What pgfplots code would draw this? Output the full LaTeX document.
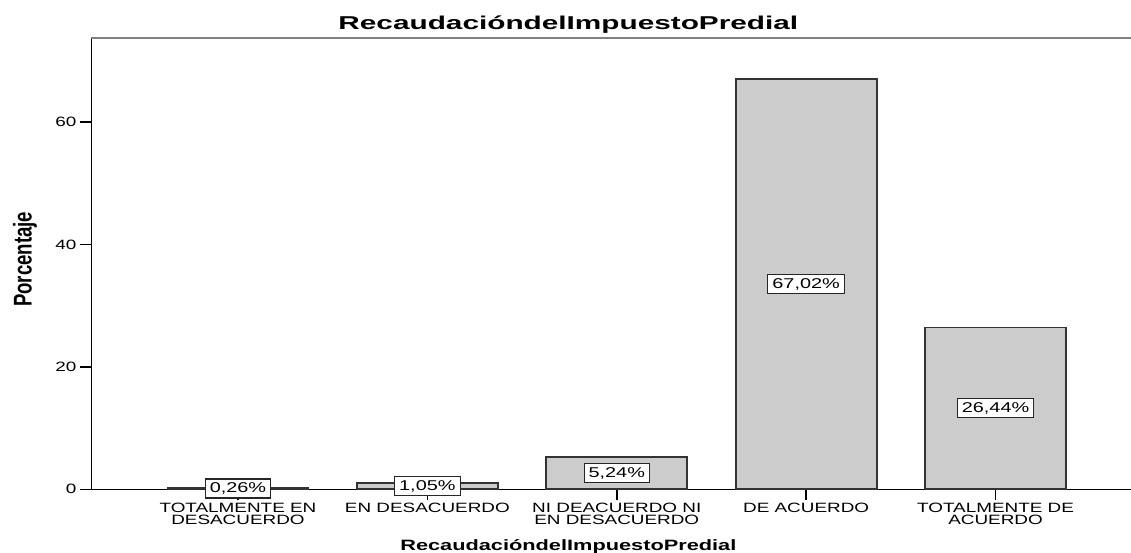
\documentclass[border=0pt]{standalone}
\usepackage{fontspec}
\setmainfont{Liberation Sans}[FakeStretch=1.4]
\newfontfamily\titlefont{Liberation Sans}[FakeStretch=1.6]
\newfontfamily\xlabfont{Liberation Sans}[FakeStretch=1.45]
\newfontfamily\ylabfont{Liberation Sans}
\usepackage{graphicx}
\usepackage{pgfplots}
\usepackage{pgfplotstable}
\pgfplotsset{compat=1.18}
\definecolor{barfill}{HTML}{CCCCCC}
\definecolor{bardraw}{HTML}{333333}

\pgfplotstableread{
x y
0 0.26
1 1.05
2 5.24
3 67.02
4 26.44
}\datatable

\begin{document}
\begin{tikzpicture}
\begin{axis}[
  scale only axis,
  width=1040pt, height=451.6pt,
  xmin=-0.776, xmax=4.715, ymin=0, ymax=73.8,
  axis x line=bottom, axis y line=left,
  axis line style={-, line width=1.6pt, black},
  every outer x axis line/.style={},
  every outer y axis line/.style={},
  xtick={0,1,2,3,4},
  xticklabels={{TOTALMENTE EN\\DESACUERDO},{EN DESACUERDO},{NI DEACUERDO NI\\EN DESACUERDO},{DE ACUERDO},{TOTALMENTE DE\\ACUERDO}},
  ytick={0,20,40,60},
  tick align=outside,
  major tick length=11pt,
  tick style={line width=1.5pt, black},
  /pgf/number format/assume math mode=true,
  ticklabel style={font=\fontsize{13.5}{13.5}\selectfont, text=black},
  xticklabel style={align=center, font=\fontsize{13.5}{11.8}\selectfont, yshift=1pt},
  title={\titlefont\bfseries RecaudacióndelImpuestoPredial},
  every axis title/.style={at={(axis description cs:0.459,1)}, anchor=base, yshift=7.7pt, font=\fontsize{18.6}{18.6}\selectfont},
  xlabel={\xlabfont\bfseries RecaudacióndelImpuestoPredial},
  every axis x label/.style={at={(axis description cs:0.459,0)}, anchor=base, yshift=-60.7pt, font=\fontsize{15}{15}\selectfont},
  ylabel={\scalebox{1}[1.38]{\ylabfont\bfseries Porcentaje}},
  every axis y label/.style={at={(axis description cs:-0.0635,0.509)}, anchor=center, rotate=90, font=\fontsize{18.6}{18.6}\selectfont},
  clip=false,
]
\coordinate (O) at (rel axis cs:0,0);
\draw[black!50, line width=1.8pt] (rel axis cs:0,1) -- (rel axis cs:1,1);
\addplot[ybar, bar width=141pt, fill=barfill, draw=bardraw, line width=1.7pt]
  table[x=x, y=y]{\datatable};
\addplot[draw=none, no markers, point meta=explicit,
  nodes near coords={\pgfmathprintnumber[fixed,fixed zerofill,precision=2,use comma]{\pgfplotspointmeta}\%},
  every node near coord/.append style={anchor=center, draw=black!85, line width=1.1pt, fill=white, text=black,
    inner xsep=4.5pt, inner ysep=0pt, minimum height=19pt, font=\fontsize{14.2}{14.2}\selectfont}]
  table[x=x, y expr=\thisrow{y}/2, meta=y]{\datatable};
\end{axis}
\pgfresetboundingbox
\path[use as bounding box] (O) ++(-91pt,-63.7pt) rectangle ++(1131pt,553pt);
\end{tikzpicture}
\end{document}
